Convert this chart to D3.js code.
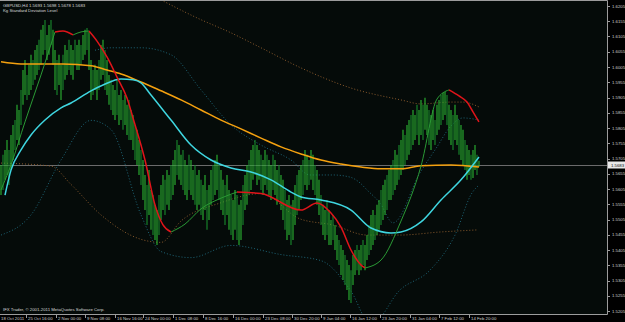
<!DOCTYPE html>
<html>
<head>
<meta charset="utf-8">
<script src="https://cdn.jsdelivr.net/npm/d3@7"></script>
<style>
  body { margin: 0; background: #000; }
  svg { display: block; }
</style>
</head>
<body>
<script>
// GBPUSD H4 bars (one entry per ~2 px bar)
const highs = [
  1.5684,1.5717,1.5733,1.5766,1.5733,1.5782,1.5815,1.5831,1.5881,1.5864,
  1.5930,1.5995,1.6028,1.5979,1.6012,1.6045,1.6028,1.6061,1.6077,1.6094,
  1.6127,1.6143,1.6159,1.6110,1.6143,1.6159,1.6127,1.6061,1.6028,1.6045,
  1.6012,1.6045,1.6077,1.6061,1.6094,1.6077,1.6061,1.6094,1.6077,1.6094,
  1.6077,1.6110,1.6127,1.6133,1.6120,1.6028,1.5995,1.6012,1.5995,1.6028,
  1.6077,1.6094,1.6061,1.6028,1.5979,1.5963,1.5946,1.5930,1.5963,1.5913,
  1.5930,1.5897,1.5913,1.5881,1.5897,1.5864,1.5848,1.5815,1.5799,1.5766,
  1.5733,1.5700,1.5651,1.5618,1.5667,1.5602,1.5585,1.5553,1.5536,1.5585,
  1.5618,1.5651,1.5635,1.5667,1.5651,1.5684,1.5700,1.5733,1.5766,1.5749,
  1.5717,1.5733,1.5700,1.5684,1.5717,1.5700,1.5667,1.5684,1.5651,1.5667,
  1.5635,1.5618,1.5651,1.5602,1.5618,1.5667,1.5684,1.5700,1.5717,1.5684,
  1.5667,1.5635,1.5618,1.5651,1.5602,1.5585,1.5569,1.5602,1.5585,1.5553,
  1.5569,1.5618,1.5651,1.5684,1.5700,1.5733,1.5749,1.5766,1.5749,1.5733,
  1.5717,1.5700,1.5733,1.5717,1.5700,1.5684,1.5717,1.5700,1.5667,1.5684,
  1.5651,1.5635,1.5602,1.5569,1.5585,1.5553,1.5569,1.5618,1.5651,1.5667,
  1.5684,1.5700,1.5733,1.5717,1.5700,1.5733,1.5717,1.5684,1.5667,1.5635,
  1.5585,1.5553,1.5536,1.5569,1.5536,1.5503,1.5520,1.5487,1.5454,1.5438,
  1.5421,1.5405,1.5389,1.5372,1.5356,1.5339,1.5389,1.5405,1.5421,1.5405,
  1.5421,1.5438,1.5421,1.5454,1.5487,1.5520,1.5536,1.5520,1.5553,1.5569,
  1.5602,1.5618,1.5635,1.5651,1.5667,1.5684,1.5700,1.5733,1.5717,1.5749,
  1.5766,1.5799,1.5782,1.5815,1.5831,1.5848,1.5864,1.5848,1.5881,1.5864,
  1.5897,1.5881,1.5904,1.5881,1.5864,1.5848,1.5864,1.5831,1.5881,1.5897,
  1.5913,1.5920,1.5923,1.5913,1.5881,1.5864,1.5848,1.5881,1.5848,1.5831,
  1.5815,1.5799,1.5766,1.5749,1.5733,1.5717,1.5733,1.5749,1.5717,1.5698
];
const lows = [
  1.5585,1.5602,1.5635,1.5651,1.5618,1.5667,1.5700,1.5733,1.5766,1.5749,
  1.5815,1.5881,1.5913,1.5897,1.5913,1.5930,1.5946,1.5963,1.5979,1.5995,
  1.6012,1.6045,1.6061,1.6028,1.6045,1.6077,1.6012,1.5930,1.5913,1.5946,
  1.5897,1.5930,1.5963,1.5979,1.5995,1.5979,1.5963,1.6012,1.5995,1.5995,
  1.6012,1.6028,1.6045,1.6061,1.5995,1.5897,1.5913,1.5930,1.5897,1.5930,
  1.5963,1.5979,1.5930,1.5913,1.5881,1.5864,1.5848,1.5831,1.5848,1.5815,
  1.5831,1.5799,1.5815,1.5782,1.5766,1.5766,1.5733,1.5700,1.5684,1.5651,
  1.5618,1.5569,1.5536,1.5487,1.5520,1.5471,1.5454,1.5438,1.5421,1.5454,
  1.5503,1.5536,1.5520,1.5553,1.5536,1.5569,1.5585,1.5618,1.5651,1.5635,
  1.5618,1.5602,1.5585,1.5569,1.5602,1.5585,1.5569,1.5553,1.5536,1.5553,
  1.5520,1.5503,1.5536,1.5471,1.5503,1.5553,1.5569,1.5585,1.5602,1.5569,
  1.5536,1.5520,1.5487,1.5520,1.5471,1.5454,1.5438,1.5471,1.5438,1.5421,
  1.5438,1.5487,1.5536,1.5553,1.5585,1.5602,1.5635,1.5651,1.5618,1.5635,
  1.5602,1.5585,1.5618,1.5602,1.5585,1.5569,1.5602,1.5585,1.5553,1.5569,
  1.5536,1.5503,1.5471,1.5438,1.5454,1.5421,1.5438,1.5487,1.5520,1.5536,
  1.5569,1.5585,1.5618,1.5602,1.5618,1.5635,1.5602,1.5585,1.5553,1.5520,
  1.5487,1.5454,1.5438,1.5454,1.5421,1.5421,1.5438,1.5405,1.5372,1.5356,
  1.5323,1.5307,1.5290,1.5274,1.5241,1.5231,1.5290,1.5323,1.5339,1.5323,
  1.5339,1.5356,1.5339,1.5372,1.5389,1.5405,1.5421,1.5438,1.5454,1.5471,
  1.5487,1.5503,1.5520,1.5536,1.5569,1.5569,1.5585,1.5602,1.5618,1.5635,
  1.5651,1.5667,1.5684,1.5700,1.5717,1.5733,1.5749,1.5766,1.5782,1.5749,
  1.5782,1.5766,1.5799,1.5782,1.5749,1.5733,1.5766,1.5749,1.5782,1.5799,
  1.5815,1.5831,1.5848,1.5815,1.5766,1.5749,1.5733,1.5766,1.5749,1.5717,
  1.5700,1.5684,1.5667,1.5635,1.5651,1.5635,1.5641,1.5667,1.5651,1.5678
];

// moving averages: [bar index, price]
const orangeMA = [
  [0,1.6022],[10,1.6015],[20,1.6015],[31,1.6015],[45,1.6009],[53,1.5995],[60,1.5982],
  [70,1.5956],[80,1.5927],[90,1.5897],[100,1.5864],[110,1.5831],[120,1.5802],[130,1.5772],
  [140,1.5743],[150,1.5720],[160,1.5700],[170,1.5687],[180,1.5677],[190,1.5671],
  [200,1.5671],[210,1.5681],[225,1.5684],[239,1.5677]
];
const cyanMA = [
  [2,1.5585],[5,1.5667],[10,1.5733],[15,1.5782],[22,1.5831],[30,1.5871],[35,1.5887],
  [45,1.5927],[51,1.5946],[60,1.5966],[66,1.5963],[70,1.5953],[75,1.5913],[85,1.5831],
  [95,1.5749],[105,1.5700],[115,1.5674],[125,1.5661],[135,1.5635],[145,1.5595],
  [150,1.5579],[160,1.5569],[175,1.5536],[185,1.5477],[195,1.5461],[200,1.5464],
  [210,1.5497],[220,1.5569],[230,1.5635],[239,1.5710]
];

// Kg Standard Deviation Level: centre line, green while rising, red while falling
const levelUp = [
  [[0,1.5602],[5,1.5684],[12,1.5825],[20,1.5979],[27,1.6120]],
  [[36,1.6110],[40,1.6120],[44,1.6123]],
  [[85,1.5464],[92,1.5490],[100,1.5540],[110,1.5575],[118,1.5595]],
  [[182,1.5346],[190,1.5372],[200,1.5500],[210,1.5680],[218,1.5900],[224,1.5930]]
];
const levelDown = [
  [[27,1.6120],[31,1.6123],[36,1.6110]],
  [[44,1.6123],[48,1.6090],[53,1.6038],[58,1.5972],[63,1.5903],[66,1.5838],[72,1.5700],
   [77,1.5553],[81,1.5487],[85,1.5464]],
  [[118,1.5595],[130,1.5590],[150,1.5536],[158,1.5559],[165,1.5526],[170,1.5480],
   [175,1.5405],[180,1.5356],[182,1.5346]],
  [[224,1.5930],[229,1.5910],[233,1.5890],[236,1.5858],[239,1.5825]]
];
// deviation bands (dotted)
const bandTealUp = [
  [47,1.6060],[55,1.6068],[62,1.6068],[70,1.6068],[85,1.6045],[100,1.5930],[115,1.5815],
  [130,1.5749],[145,1.5700],[154.5,1.5651],[166,1.5651],[174.5,1.5644],[179.5,1.5625],
  [183,1.5602],[189.5,1.5559],[196,1.5494],[209.5,1.5658],[218,1.5743],[224.5,1.5808],
  [231,1.5838],[239,1.5831]
];
const bandTealDn = [
  [0,1.5454],[15,1.5520],[30,1.5700],[45,1.5830],[55,1.5800],[70,1.5520],[80,1.5400],
  [95,1.5380],[115,1.5420],[140,1.5390],[160,1.5370],[175,1.5270],[185,1.5160],
  [199.5,1.5274],[214.5,1.5339],[227,1.5454],[235.5,1.5592],[239,1.5618]
];
const bandBrownUp = [
  [80,1.6225],[98,1.6166],[115,1.6117],[130,1.6068],[150,1.6002],[175,1.5936],
  [200,1.5897],[210,1.5884],[225,1.5890],[231,1.5890],[239,1.5874]
];
const bandBrownDn = [
  [0,1.5690],[25,1.5680],[35,1.5620],[50,1.5520],[70,1.5440],[80,1.5430],[90,1.5500],
  [110,1.5560],[130,1.5590],[149.5,1.5507],[166,1.5487],[183,1.5454],[199.5,1.5454],
  [219.5,1.5464],[238.5,1.5471]
];

const priceTicks = [
  1.6205,1.6155,1.6105,1.6055,1.6005,1.5955,1.5905,1.5855,1.5805,1.5755,1.5705,
  1.5655,1.5605,1.5555,1.5505,1.5455,1.5405,1.5355,1.5305,1.5255,1.5205
];
const timeLabels = [
  "18 Oct 2011","25 Oct 16:00","2 Nov 00:00","9 Nov 08:00","16 Nov 16:00","24 Nov 00:00",
  "1 Dec 08:00","8 Dec 16:00","16 Dec 00:00","23 Dec 08:00","30 Dec 20:00","9 Jan 04:00",
  "16 Jan 12:00","23 Jan 20:00","31 Jan 04:00","7 Feb 12:00","14 Feb 20:00"
];
const timeBars = [0,13.5,28.5,43,58,72,87,102,117,132,146.5,161,175.5,190.5,205.5,220,235];

const lastPrice = 1.5683;
const header = "GBPUSD,H4  1.5693 1.5698 1.5678 1.5683";

const width = 625, height = 322;
const plotRight = 607, plotBottom = 314;

const x = d3.scaleLinear().domain([0, 303]).range([1, plotRight]);
const y = d3.scaleLinear().domain([1.5205, 1.6205]).range([311, 6]);

const svg = d3.select("body").append("svg")
    .attr("width", width)
    .attr("height", height)
    .style("font-family", "'Liberation Sans', Arial, sans-serif");

svg.append("rect").attr("width", width).attr("height", height).attr("fill", "#000");
svg.append("rect")
    .attr("x", 0).attr("y", 0)
    .attr("width", plotRight).attr("height", plotBottom)
    .attr("fill", "#050b09");

svg.append("defs").append("clipPath").attr("id", "clip")
  .append("rect").attr("x", 0).attr("y", 1).attr("width", plotRight).attr("height", plotBottom - 1);

const plot = svg.append("g").attr("clip-path", "url(#clip)");

// bid line
plot.append("line")
    .attr("x1", 0).attr("x2", plotRight)
    .attr("y1", Math.round(y(lastPrice)) + 0.5).attr("y2", Math.round(y(lastPrice)) + 0.5)
    .attr("stroke", "#6b6b6b").attr("stroke-width", 1);

const line = d3.line().x(d => x(d[0])).y(d => y(d[1])).curve(d3.curveMonotoneX);

function dotted(data, color) {
  plot.append("path")
      .attr("d", line(data))
      .attr("fill", "none")
      .attr("stroke", color)
      .attr("stroke-width", 1)
      .attr("stroke-dasharray", "1,2");
}
dotted(bandBrownUp, "#8a5a2c");
dotted(bandBrownDn, "#8a5a2c");
dotted(bandTealUp, "#1d6577");
dotted(bandTealDn, "#1d6577");

// price bars
plot.append("g")
  .selectAll("line")
  .data(highs)
  .join("line")
    .attr("x1", (d, i) => x(i)).attr("x2", (d, i) => x(i))
    .attr("y1", d => y(d))
    .attr("y2", (d, i) => y(lows[i]))
    .attr("stroke", (d, i) => i % 3 === 1 ? "#17802a" : "#27a830")
    .attr("stroke-width", 1.2);

plot.append("path")
    .attr("d", line(orangeMA))
    .attr("fill", "none").attr("stroke", "#f5a10f").attr("stroke-width", 1.5);
plot.append("path")
    .attr("d", line(cyanMA))
    .attr("fill", "none").attr("stroke", "#3fd6e0").attr("stroke-width", 1.5);

levelUp.forEach(seg => plot.append("path")
    .attr("d", line(seg))
    .attr("fill", "none").attr("stroke", "#2a9a35").attr("stroke-width", 1));
levelDown.forEach(seg => plot.append("path")
    .attr("d", line(seg))
    .attr("fill", "none").attr("stroke", "#e0141a").attr("stroke-width", 1.5));

// frame
svg.append("path")
    .attr("d", `M0,0.5H${plotRight + 0.5}V${plotBottom + 0.5}H0`)
    .attr("fill", "none").attr("stroke", "#9c9c9c");

// price axis
const yAxis = svg.append("g");
yAxis.selectAll("line").data(priceTicks).join("line")
    .attr("x1", plotRight).attr("x2", plotRight + 3)
    .attr("y1", d => Math.round(y(d)) + 0.5).attr("y2", d => Math.round(y(d)) + 0.5)
    .attr("stroke", "#9c9c9c");
yAxis.selectAll("text").data(priceTicks).join("text")
    .attr("x", plotRight + 5).attr("y", d => y(d) + 1.6)
    .attr("fill", "#d0d0d0").attr("font-size", 4.3)
    .text(d => d.toFixed(4));

// current price tag
const ty = Math.round(y(lastPrice));
svg.append("rect")
    .attr("x", plotRight + 1).attr("y", ty - 3.5)
    .attr("width", 17).attr("height", 7)
    .attr("fill", "#e8e8e8");
svg.append("text")
    .attr("x", plotRight + 4).attr("y", ty + 1.6)
    .attr("fill", "#101010").attr("font-size", 4.3)
    .text(lastPrice.toFixed(4));

// time axis
const xAxis = svg.append("g");
xAxis.selectAll("line").data(timeBars.slice(1)).join("line")
    .attr("x1", d => Math.round(x(d)) - 1.5).attr("x2", d => Math.round(x(d)) - 1.5)
    .attr("y1", plotBottom).attr("y2", plotBottom + 4)
    .attr("stroke", "#9c9c9c");
xAxis.selectAll("text").data(timeLabels).join("text")
    .attr("x", (d, i) => x(timeBars[i]))
    .attr("y", 320)
    .attr("fill", "#d0d0d0").attr("font-size", 4.3)
    .text(d => d);

// titles
svg.append("text").attr("x", 3).attr("y", 6.5)
    .attr("fill", "#d8d8d8").attr("font-size", 4.3).text(header);
svg.append("text").attr("x", 3).attr("y", 11.5)
    .attr("fill", "#d8d8d8").attr("font-size", 4.3).text("Kg Standard Deviation Level");
svg.append("text").attr("x", 3).attr("y", 311)
    .attr("fill", "#d8d8d8").attr("font-size", 4.3)
    .text("IFX Trader, © 2001-2011 MetaQuotes Software Corp.");
</script>
</body>
</html>
